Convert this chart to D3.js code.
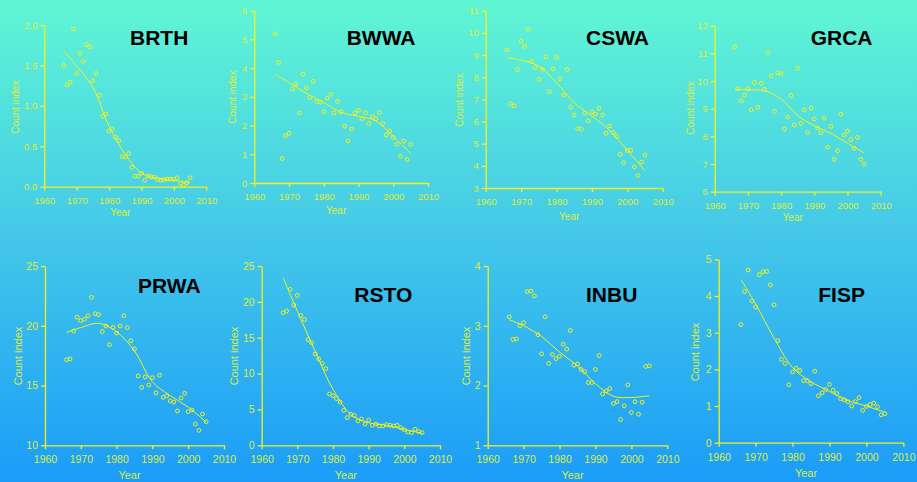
<!DOCTYPE html>
<html>
<head>
<meta charset="utf-8">
<script src="https://cdn.jsdelivr.net/npm/d3@7"></script>
<style>
  html, body { margin: 0; padding: 0; }
  body { width: 917px; height: 482px; overflow: hidden; }
  svg { display: block; font-family: "Liberation Sans", Arial, sans-serif; }
</style>
</head>
<body>
<div id="app"></div>
<script>
// survey years, one count per year
const years = d3.range(1966, 2006);
const trendYears = [1966, 1970, 1975, 1980, 1985, 1990, 1995, 2000, 2005];
const xTicks = [1960, 1970, 1980, 1990, 2000, 2010];

const brth = [1.50, 1.26, 1.29, 1.95, 1.40, 1.65, 1.55, 1.76, 1.73, 1.31, 1.40, 1.13, 0.87, 0.90, 0.69, 0.71, 0.61, 0.57, 0.37, 0.37,
  0.41, 0.24, 0.13, 0.13, 0.165, 0.08, 0.135, 0.12, 0.12, 0.09, 0.08, 0.09, 0.095, 0.095, 0.09, 0.11, 0.04, 0.02, 0.05, 0.11];
const brthTrend = [1.68, 1.49, 1.23, 0.75, 0.40, 0.17, 0.10, 0.08, 0.05];
const brthTicks = [0, 0.5, 1.0, 1.5, 2.0];

const bwwa = [5.20, 4.20, 0.85, 1.64, 1.73, 3.27, 3.45, 2.44, 3.79, 3.31, 2.98, 3.54, 2.84, 2.82, 2.48, 2.96, 3.09, 2.44, 2.84, 2.48,
  1.98, 1.46, 1.88, 2.44, 2.53, 2.24, 2.45, 2.07, 2.32, 2.24, 2.46, 2.07, 1.67, 1.81, 1.59, 1.35, 0.93, 1.46, 0.82, 1.35];
const bwwaTrend = [3.78, 3.50, 3.12, 2.80, 2.46, 2.32, 2.16, 1.62, 1.03];
const bwwaTicks = [0, 1, 2, 3, 4, 5, 6];

const cswa = [9.23, 6.80, 6.71, 8.34, 9.62, 9.39, 10.16, 8.71, 8.43, 7.90, 8.35, 8.92, 7.35, 8.38, 8.89, 7.93, 7.20, 8.35, 6.64, 6.29,
  5.68, 5.65, 6.38, 6.02, 6.44, 6.34, 6.59, 6.29, 5.47, 5.80, 5.50, 5.33, 4.52, 4.14, 4.70, 4.70, 3.95, 3.57, 4.17, 4.49];
const cswaTrend = [8.88, 8.77, 8.50, 7.75, 6.85, 6.25, 5.60, 4.70, 3.78];
const cswaTicks = [3, 4, 5, 6, 7, 8, 9, 10, 11];

const grca = [11.23, 9.72, 9.29, 9.49, 9.72, 8.96, 9.95, 9.05, 9.92, 9.70, 11.02, 10.19, 8.90, 10.30, 10.27, 8.27, 8.69, 9.48, 8.41, 10.46,
  8.47, 8.96, 8.14, 9.02, 8.63, 8.30, 8.13, 8.66, 7.61, 8.36, 7.17, 7.48, 8.80, 8.05, 8.19, 7.88, 7.57, 7.96, 7.17, 6.99];
const grcaTrend = [9.70, 9.68, 9.65, 9.35, 8.75, 8.38, 8.11, 7.75, 7.40];
const grcaTicks = [6, 7, 8, 9, 10, 11, 12];

const prwa = [17.16, 17.22, 19.56, 20.71, 20.43, 20.54, 20.84, 22.38, 21.01, 20.93, 19.51, 19.98, 18.42, 19.87, 19.39, 19.98, 20.84, 19.84, 18.75, 18.06,
  15.80, 14.85, 15.72, 15.05, 15.66, 14.38, 15.86, 14.01, 14.13, 13.71, 13.62, 12.87, 13.96, 14.35, 12.82, 12.96, 11.78, 11.25, 12.62, 11.98];
const prwaTrend = [19.45, 19.85, 20.20, 19.50, 17.90, 15.30, 14.15, 13.20, 11.95];
const prwaTicks = [10, 15, 20, 25];

const rsto = [18.49, 18.73, 21.75, 19.56, 20.91, 18.08, 17.52, 14.73, 14.31, 12.73, 12.04, 11.43, 10.69, 7.16, 6.92, 6.51, 6.04, 4.88, 3.86, 4.32,
  4.14, 3.39, 3.67, 2.97, 3.53, 2.79, 2.97, 2.70, 2.70, 2.88, 2.79, 2.70, 2.79, 2.46, 2.18, 1.86, 1.77, 2.23, 1.91, 1.77];
const rstoTrend = [23.4, 18.7, 13.1, 7.8, 4.3, 3.15, 2.8, 2.2, 1.7];
const rstoTicks = [0, 5, 10, 15, 20, 25];

const inbu = [3.15, 2.77, 2.78, 3.00, 3.05, 3.57, 3.58, 3.50, 2.85, 2.53, 3.15, 2.37, 2.52, 2.45, 2.49, 2.69, 2.61, 2.92, 2.34, 2.36,
  2.27, 2.23, 2.05, 2.05, 2.27, 2.50, 1.86, 1.91, 1.95, 1.70, 1.73, 1.43, 1.66, 2.01, 1.55, 1.73, 1.52, 1.72, 2.32, 2.33];
const inbuTrend = [3.10, 3.00, 2.82, 2.56, 2.33, 2.03, 1.82, 1.80, 1.83];
const inbuTicks = [1, 2, 3, 4];

const fisp = [3.22, 4.12, 4.71, 3.86, 3.70, 4.58, 4.66, 4.67, 4.30, 3.76, 2.78, 2.27, 2.16, 1.58, 1.93, 2.03, 1.97, 1.69, 1.69, 1.61,
  1.95, 1.28, 1.36, 1.45, 1.59, 1.43, 1.34, 1.20, 1.17, 1.12, 1.00, 1.12, 1.23, 0.88, 0.99, 1.04, 1.08, 0.98, 0.76, 0.79];
const fispTrend = [4.45, 3.78, 2.85, 2.05, 1.66, 1.40, 1.15, 1.00, 0.83];
const fispTicks = [0, 1, 2, 3, 4, 5];

const width = 917;
const height = 482;
const yellow = '#f2f21e';
const labelColor = '#dcee3c';

// panel boxes: x of 1960 / 2010, y of lowest / highest tick, title spot, label spots
const panels = [
  { name: 'BRTH', values: brth, trend: brthTrend, ticks: brthTicks, x0: 44.3, x1: 206.3, yb: 186.7, yt: 25, tx: 130, ty: 45, ylx: 15, yly: 107, yearY: 216 },
  { name: 'BWWA', values: bwwa, trend: bwwaTrend, ticks: bwwaTicks, x0: 254.3, x1: 428, yb: 183, yt: 10.7, tx: 346.7, ty: 45, ylx: 232, yly: 97, yearY: 214 },
  { name: 'CSWA', values: cswa, trend: cswaTrend, ticks: cswaTicks, x0: 485.7, x1: 662.7, yb: 188, yt: 10.7, tx: 586, ty: 45, ylx: 459, yly: 100, yearY: 220 },
  { name: 'GRCA', values: grca, trend: grcaTrend, ticks: grcaTicks, x0: 714.7, x1: 880.7, yb: 191.7, yt: 25.7, tx: 810.7, ty: 45, ylx: 690, yly: 108, yearY: 221 },
  { name: 'PRWA', values: prwa, trend: prwaTrend, ticks: prwaTicks, x0: 45, x1: 224, yb: 445.3, yt: 266, tx: 138, ty: 292.7, ylx: 18, yly: 356, yearY: 479 },
  { name: 'RSTO', values: rsto, trend: rstoTrend, ticks: rstoTicks, x0: 261.7, x1: 440, yb: 445.3, yt: 266, tx: 354.3, ty: 301.7, ylx: 234, yly: 356, yearY: 479 },
  { name: 'INBU', values: inbu, trend: inbuTrend, ticks: inbuTicks, x0: 487.7, x1: 667.3, yb: 445.3, yt: 266, tx: 586, ty: 301.7, ylx: 466, yly: 356, yearY: 479 },
  { name: 'FISP', values: fisp, trend: fispTrend, ticks: fispTicks, x0: 718.7, x1: 903.3, yb: 442.7, yt: 259.3, tx: 818.3, ty: 301.7, ylx: 695, yly: 352, yearY: 477 }
];

const svg = d3.select('#app')
  .append('svg')
  .attr('width', width)
  .attr('height', height);

// background gradient
const grad = svg.append('defs')
  .append('linearGradient')
  .attr('id', 'bg')
  .attr('x1', 0).attr('y1', 0)
  .attr('x2', 0).attr('y2', 1);
grad.append('stop').attr('offset', '0%').attr('stop-color', '#60f6d4');
grad.append('stop').attr('offset', '48%').attr('stop-color', '#44c9e8');
grad.append('stop').attr('offset', '100%').attr('stop-color', '#1b9cf8');

svg.append('rect')
  .attr('width', width)
  .attr('height', height)
  .attr('fill', 'url(#bg)');

panels.forEach(p => {
  const bottomRow = p.yb > 300;
  const fs = bottomRow ? 10.5 : 9.5;

  const x = d3.scaleLinear().domain([1960, 2010]).range([p.x0, p.x1]);
  const y = d3.scaleLinear()
    .domain([p.ticks[0], p.ticks[p.ticks.length - 1]])
    .range([p.yb, p.yt]);

  const g = svg.append('g').attr('class', 'panel');

  const xAxis = d3.axisBottom(x).tickValues(xTicks).tickFormat(d3.format('')).tickSize(4).tickSizeOuter(0);
  const yAxis = d3.axisLeft(y).tickValues(p.ticks).tickFormat(d => (p.name === 'BRTH' ? d3.format('.1f')(d) : d)).tickSize(4).tickSizeOuter(0);

  const gx = g.append('g')
    .attr('transform', `translate(0, ${p.yb})`)
    .call(xAxis);
  const gy = g.append('g')
    .attr('transform', `translate(${p.x0}, 0)`)
    .call(yAxis);

  [gx, gy].forEach(a => {
    a.select('.domain').attr('stroke', yellow).attr('stroke-width', 1.3);
    a.selectAll('.tick line').attr('stroke', yellow).attr('stroke-width', 1.3);
    a.selectAll('.tick text')
      .attr('fill', labelColor)
      .style('font-size', fs + 'px')
      .style('font-family', '"Liberation Sans", Arial, sans-serif');
  });
  gx.selectAll('.tick text').attr('dy', '1.05em');

  // trend line
  const line = d3.line()
    .x((d, i) => x(trendYears[i]))
    .y(d => y(d))
    .curve(d3.curveCatmullRom.alpha(0.5));

  g.append('path')
    .datum(p.trend)
    .attr('d', line)
    .attr('fill', 'none')
    .attr('stroke', yellow)
    .attr('stroke-width', 1);

  // yearly counts
  g.selectAll('circle')
    .data(p.values)
    .enter()
    .append('circle')
    .attr('cx', (d, i) => x(years[i]))
    .attr('cy', d => y(d))
    .attr('r', 1.9)
    .attr('fill', 'none')
    .attr('stroke', yellow)
    .attr('stroke-width', 1);

  // species code
  g.append('text')
    .attr('x', p.tx)
    .attr('y', p.ty)
    .attr('fill', '#000')
    .style('font-size', '21px')
    .style('font-weight', 'bold')
    .text(p.name);

  g.append('text')
    .attr('x', (p.x0 + p.x1) / 2 - 5)
    .attr('y', p.yearY)
    .attr('text-anchor', 'middle')
    .attr('fill', labelColor)
    .style('font-size', (fs + 0.5) + 'px')
    .text('Year');

  g.append('text')
    .attr('transform', `translate(${p.ylx + 4}, ${p.yly}) rotate(-90)`)
    .attr('text-anchor', 'middle')
    .attr('fill', labelColor)
    .style('font-size', (fs + 0.5) + 'px')
    .text('Count index');
});
</script>
</body>
</html>
